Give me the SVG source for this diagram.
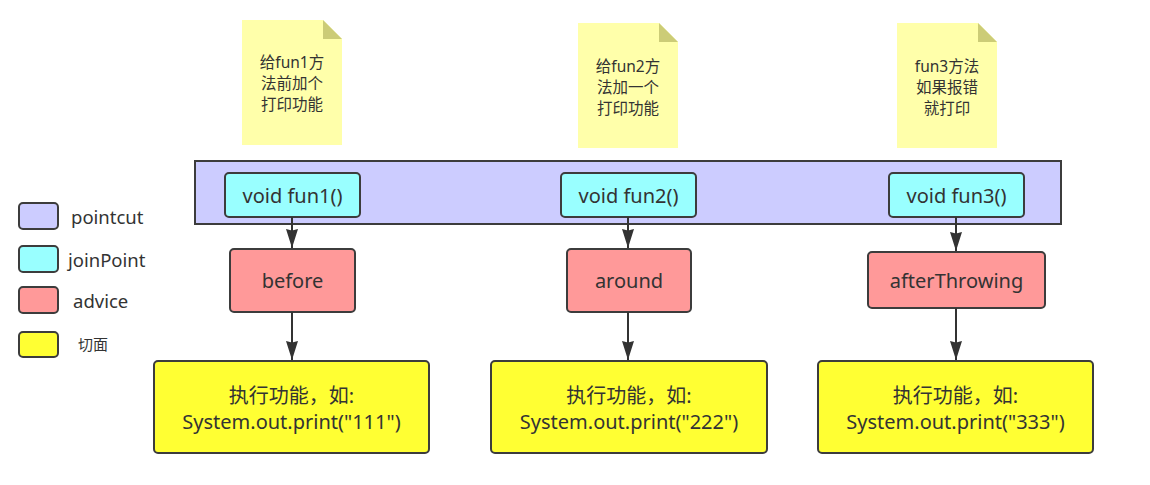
<svg xmlns="http://www.w3.org/2000/svg" width="1150" height="485" viewBox="0 0 1150 485">
<style>
text{font-family:"Noto Sans","Noto Sans CJK SC",sans-serif;fill:#333;text-anchor:middle;dominant-baseline:central}
.box{stroke:#3c3c3c;stroke-width:2}
.pc{fill:#CCCCFF}
.jp{fill:#99FFFF}
.ad{fill:#FF9999}
.ex{fill:#FFFF33}
.note{fill:#FFFFAA}
.fold{fill:#CCCC77}
.t20{font-size:20px}
.t14{font-size:15.5px}
.t16{font-size:18.5px;text-anchor:start}
.edge{stroke:#333;stroke-width:2;fill:none;marker-end:url(#arr)}
</style>
<defs>
<marker id="arr" viewBox="0 0 12 19" refX="6" refY="19" markerWidth="12" markerHeight="19" markerUnits="userSpaceOnUse" orient="0">
<path d="M0,0 L6,1.5 L12,0 L6,19 Z" fill="#333"/>
</marker>
</defs>
<rect width="1150" height="485" fill="#fff"/>

<g id="note1"><path class="note" d="M242,20 H323 L342,39 V145 H242 Z"/><path class="fold" d="M323,20 L342,39 H323 Z"/>
<text class="t14" x="292" y="62">给fun1方</text><text class="t14" x="292" y="83">法前加个</text><text class="t14" x="292" y="104">打印功能</text></g>
<g id="note2"><path class="note" d="M578,23 H659 L678,42 V148 H578 Z"/><path class="fold" d="M659,23 L678,42 H659 Z"/>
<text class="t14" x="628" y="66">给fun2方</text><text class="t14" x="628" y="87">法加一个</text><text class="t14" x="628" y="108">打印功能</text></g>
<g id="note3"><path class="note" d="M897,23 H978 L997,42 V148 H897 Z"/><path class="fold" d="M978,23 L997,42 H978 Z"/>
<text class="t14" x="947" y="66">fun3方法</text><text class="t14" x="947" y="87">如果报错</text><text class="t14" x="947" y="108">就打印</text></g>

<g id="pointcut"><rect class="box pc" x="195" y="161" width="866" height="63"/></g>

<g id="fun1"><rect class="box jp" x="225" y="173" width="135" height="44" rx="4"/><text class="t20" x="292.5" y="195">void fun1()</text></g>
<g id="fun2"><rect class="box jp" x="561" y="173" width="135" height="44" rx="4"/><text class="t20" x="628.5" y="195">void fun2()</text></g>
<g id="fun3"><rect class="box jp" x="889" y="173" width="135" height="44" rx="4"/><text class="t20" x="956.5" y="195">void fun3()</text></g>

<g id="before"><rect class="box ad" x="230" y="249" width="125" height="63" rx="4"/><text class="t20" x="292.5" y="280.5">before</text></g>
<g id="around"><rect class="box ad" x="567" y="249" width="124" height="63" rx="4"/><text class="t20" x="629" y="280.5">around</text></g>
<g id="afterThrowing"><rect class="box ad" x="868" y="252" width="177" height="56" rx="4"/><text class="t20" x="956.5" y="280">afterThrowing</text></g>

<g id="exec1"><rect class="box ex" x="154" y="361" width="275" height="92" rx="4"/><text class="t20" x="291.5" y="395">执行功能，如:</text><text class="t20" x="291.5" y="421">System.out.print("111")</text></g>
<g id="exec2"><rect class="box ex" x="491" y="361" width="276" height="92" rx="4"/><text class="t20" x="629" y="395">执行功能，如:</text><text class="t20" x="629" y="421">System.out.print("222")</text></g>
<g id="exec3"><rect class="box ex" x="818" y="361" width="275" height="92" rx="4"/><text class="t20" x="955.5" y="395">执行功能，如:</text><text class="t20" x="955.5" y="421">System.out.print("333")</text></g>

<g id="connectors">
<path class="edge" d="M292,217 V248"/>
<path class="edge" d="M628,217 V248"/>
<path class="edge" d="M956,217 V251"/>
<path class="edge" d="M292,312 V360"/>
<path class="edge" d="M628,312 V360"/>
<path class="edge" d="M956,308 V360"/>
</g>

<g id="legend">
<rect class="box pc" x="19" y="203" width="39" height="26" rx="4"/><text class="t16" x="71" y="216">pointcut</text>
<rect class="box jp" x="19" y="246" width="39" height="26" rx="4"/><text class="t16" x="68" y="259">joinPoint</text>
<rect class="box ad" x="19" y="287" width="39" height="26" rx="4"/><text class="t16" x="73" y="300">advice</text>
<rect class="box ex" x="19" y="332" width="39" height="25" rx="4"/><text class="t16" x="78" y="344" style="font-size:15px">切面</text>
</g>
</svg>
